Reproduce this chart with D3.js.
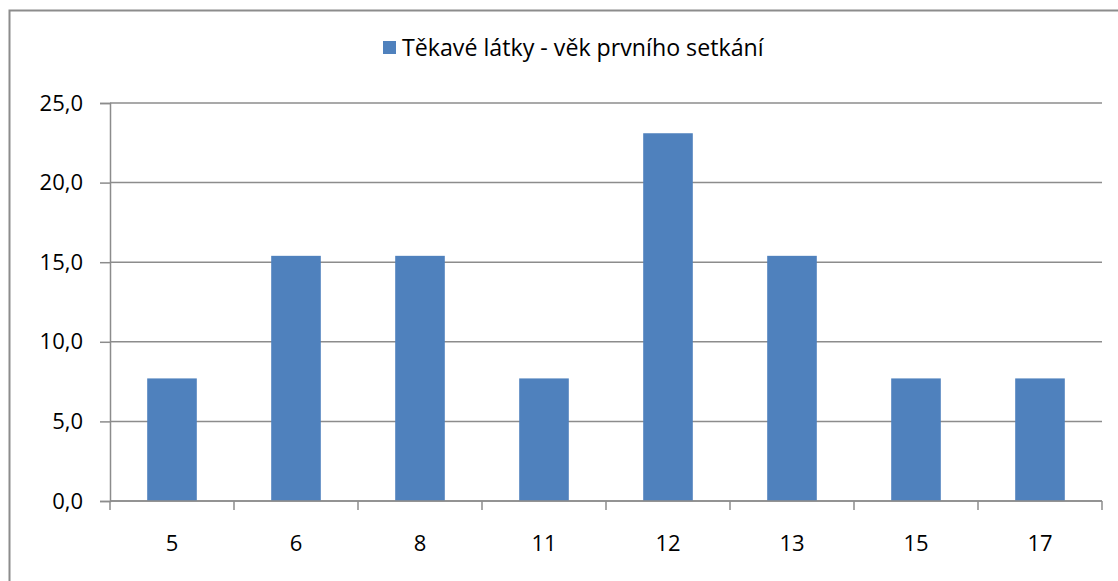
<!DOCTYPE html>
<html>
<head>
<meta charset="utf-8">
<script src="https://cdnjs.cloudflare.com/ajax/libs/d3/7.8.5/d3.min.js"></script>
<style>
  body { margin: 0; background: #fff; }
  text { font-family: "Open Sans", Lato, sans-serif; }
</style>
</head>
<body>
<div id="chart"></div>
<script>
const ages = ["5", "6", "8", "11", "12", "13", "15", "17"];
const shares = [7.7, 15.4, 15.4, 7.7, 23.1, 15.4, 7.7, 7.7];
const yTicks = [0, 5, 10, 15, 20, 25];
const seriesName = "Těkavé látky - věk prvního setkání";

const W = 1118, H = 581;
const margin = {top: 103, right: 16, bottom: 80, left: 110};
const width = W - margin.left - margin.right;
const height = H - margin.top - margin.bottom;
const fontSize = 22;

const svg = d3.select("#chart")
  .append("svg")
    .attr("width", W)
    .attr("height", H);

// outer frame (runs off the right/bottom edge like the original)
svg.append("rect")
  .attr("x", 9.5).attr("y", 10.5)
  .attr("width", W + 20).attr("height", H + 20)
  .attr("fill", "none")
  .attr("stroke", "#8c8c8c")
  .attr("stroke-width", 2);

const g = svg.append("g")
  .attr("transform", `translate(${margin.left},${margin.top})`);

const x = d3.scaleBand().domain(ages).range([0, width]);
const y = d3.scaleLinear().domain([0, 25]).range([height, 0]);

// gridlines
g.selectAll("line.grid")
  .data(yTicks)
  .join("line")
    .attr("x1", 0).attr("x2", width)
    .attr("y1", d => y(d)).attr("y2", d => y(d))
    .attr("stroke", "#8c8c8c")
    .attr("stroke-width", 1.5);

// bars (gap width 150%)
const barW = x.bandwidth() / 2.5;
g.selectAll("rect.bar")
  .data(shares)
  .join("rect")
    .attr("x", (d, i) => x(ages[i]) + (x.bandwidth() - barW) / 2)
    .attr("y", d => y(d))
    .attr("width", barW)
    .attr("height", d => height - y(d))
    .attr("fill", "#4f81bd");

// Y axis
const yAxis = g.append("g")
  .call(d3.axisLeft(y).tickValues(yTicks).tickSize(10).tickPadding(17)
    .tickFormat(d => d3.format(".1f")(d).replace(".", ",")));
yAxis.select(".domain").attr("stroke", "#8c8c8c").attr("stroke-width", 1.5);
yAxis.selectAll(".tick line").attr("stroke", "#8c8c8c").attr("stroke-width", 1.5);
yAxis.selectAll("text").attr("font-size", fontSize).attr("fill", "#000")
  .style("font-family", "'Open Sans', Lato, sans-serif");

// X axis with ticks between categories
const xAxis = g.append("g").attr("transform", `translate(0,${height})`);
xAxis.append("line")
  .attr("x1", 0).attr("x2", width)
  .attr("stroke", "#8c8c8c").attr("stroke-width", 1.5);
xAxis.selectAll("line.tk")
  .data(d3.range(ages.length + 1))
  .join("line")
    .attr("x1", i => i * x.step()).attr("x2", i => i * x.step())
    .attr("y1", 0).attr("y2", 9)
    .attr("stroke", "#8c8c8c").attr("stroke-width", 1.5);
xAxis.selectAll("text")
  .data(ages)
  .join("text")
    .attr("x", d => x(d) + x.bandwidth() / 2)
    .attr("y", 42)
    .attr("dy", "0.35em")
    .attr("text-anchor", "middle")
    .attr("font-size", fontSize)
    .text(d => d);

// legend
const legend = svg.append("g");
legend.append("rect")
  .attr("x", 383).attr("y", 41)
  .attr("width", 13).attr("height", 13)
  .attr("fill", "#4f81bd");
legend.append("text")
  .attr("x", 402).attr("y", 48)
  .attr("dy", "0.35em")
  .attr("font-size", 23.2)
  .text(seriesName);
</script>
</body>
</html>
